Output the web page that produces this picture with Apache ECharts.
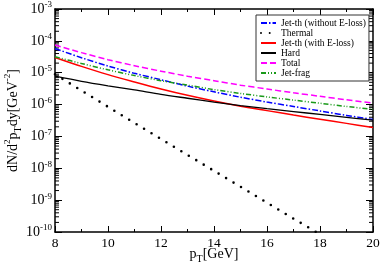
<!DOCTYPE html>
<html>
<head>
<meta charset="utf-8">
<script src="https://cdn.jsdelivr.net/npm/echarts@6/dist/echarts.min.js"></script>
<style>html,body{margin:0;padding:0;background:#fff}#c{width:382px;height:265px}</style>
</head>
<body>
<div id="c"></div>
<script>
// ---- data ----
const pT = [8, 9, 10, 11, 12, 13, 14, 15, 16, 17, 18, 19, 20];
const jetThNoLoss = [5.75e-5, 2.95e-5, 1.62e-5, 9.55e-6, 6.03e-6, 3.80e-6, 2.51e-6, 1.70e-6, 1.20e-6, 8.71e-7, 6.31e-7, 4.57e-7, 3.39e-7];
const thermal = [8.91e-6, 2.75e-6, 8.51e-7, 2.63e-7, 8.32e-8, 2.63e-8, 8.32e-9, 2.63e-9, 8.32e-10, 2.63e-10, 8.51e-11];
const jetThLoss = [3.02e-5, 1.58e-5, 8.71e-6, 5.13e-6, 3.09e-6, 1.95e-6, 1.29e-6, 8.91e-7, 6.46e-7, 4.68e-7, 3.47e-7, 2.57e-7, 1.91e-7];
const hard = [7.76e-6, 5.37e-6, 3.89e-6, 2.88e-6, 2.09e-6, 1.58e-6, 1.20e-6, 9.33e-7, 7.41e-7, 6.03e-7, 4.90e-7, 3.98e-7, 3.24e-7];
const total = [7.41e-5, 4.27e-5, 2.57e-5, 1.66e-5, 1.12e-5, 7.76e-6, 5.62e-6, 4.07e-6, 3.09e-6, 2.34e-6, 1.82e-6, 1.41e-6, 1.12e-6];
const jetFrag = [3.16e-5, 1.95e-5, 1.23e-5, 8.13e-6, 5.62e-6, 4.07e-6, 2.95e-6, 2.24e-6, 1.74e-6, 1.38e-6, 1.10e-6, 8.71e-7, 7.08e-7];
const seriesNames = ['Jet-th (without E-loss)', 'Thermal', 'Jet-th (with E-loss)', 'Hard', 'Total', 'Jet-frag'];
const xMin = 8, xMax = 20, xStep = 2;
const yMin = 1e-10, yMax = 1e-3;
// minor log ticks (2..9 per decade)
const yMinorTicks = [];
for (let e = -10; e < -3; e++) for (let m = 2; m <= 9; m++) yMinorTicks.push(m * Math.pow(10, e));

const FONT = "'Liberation Serif','Times New Roman',serif";
function pairs(vals) { return vals.map((v, i) => [pT[i], v]); }

const chart = echarts.init(document.getElementById('c'), null, {renderer: 'canvas'});
const axisLineStyle = {color: '#000', width: 1.5};
const option = {
  animation: false,
  backgroundColor: '#fff',
  grid: {left: 55, right: 9, top: 9, bottom: 33, containLabel: false, outerBoundsMode: 'none'},
  legend: {
    data: seriesNames,
    orient: 'vertical',
    left: 256, top: 15,
    itemWidth: 15, itemHeight: 10, itemGap: 0,
    padding: [3, 3, 3, 4],
    backgroundColor: '#fff',
    borderColor: '#333', borderWidth: 1,
    itemStyle: {opacity: 0},
    textStyle: {fontFamily: FONT, fontSize: 9.5, color: '#000'},
    selectedMode: false
  },
  xAxis: [{
    type: 'value', min: xMin, max: xMax, interval: xStep,
    name: '{a|p}{sub|T}{a|[GeV]}', nameLocation: 'middle', nameGap: 12, nameMoveOverlap: false,
    nameTextStyle: {fontFamily: FONT, color: '#000', rich: {
      a: {fontFamily: FONT, fontSize: 14, color: '#000', lineHeight: 20},
      sub: {fontFamily: FONT, fontSize: 10, color: '#000', verticalAlign: 'bottom'}
    }},
    axisLine: {lineStyle: axisLineStyle},
    axisTick: {inside: true, length: 6, lineStyle: {color: '#000', width: 1}},
    minorTick: {show: true, splitNumber: 2, length: 3, lineStyle: {color: '#000', width: 1}},
    splitLine: {show: false},
    axisLabel: {fontFamily: FONT, fontSize: 13.5, color: '#000', margin: 4}
  }, {
    type: 'value', min: xMin, max: xMax, interval: xStep, position: 'top',
    axisLine: {lineStyle: axisLineStyle},
    axisTick: {inside: true, length: 6, lineStyle: {color: '#000', width: 1}},
    minorTick: {show: true, splitNumber: 2, length: 3, lineStyle: {color: '#000', width: 1}},
    splitLine: {show: false},
    axisLabel: {show: false}
  }],
  yAxis: [{
    type: 'log', logBase: 10, min: yMin, max: yMax,
    name: '{a|dN/d}{sup|2}{a|p}{sub|T}{a|dy[GeV}{sup|-2}{a|]}',
    nameLocation: 'middle', nameGap: 32, nameMoveOverlap: false,
    nameTextStyle: {fontFamily: FONT, color: '#000', rich: {
      a: {fontFamily: FONT, fontSize: 14, color: '#000', lineHeight: 20},
      sup: {fontFamily: FONT, fontSize: 9, color: '#000', verticalAlign: 'top'},
      sub: {fontFamily: FONT, fontSize: 10, color: '#000', verticalAlign: 'bottom'}
    }},
    axisLine: {lineStyle: axisLineStyle},
    axisTick: {inside: true, length: 7, lineStyle: {color: '#000', width: 1}},
    splitLine: {show: false},
    axisLabel: {
      margin: 3,
      formatter: function (v) { return '{b|10}{s|' + Math.round(Math.log10(v)) + '}'; },
      rich: {
        b: {fontFamily: FONT, fontSize: 14, color: '#000', lineHeight: 17},
        s: {fontFamily: FONT, fontSize: 9, color: '#000', verticalAlign: 'top'}
      }
    }
  }, {
    type: 'log', logBase: 10, min: yMin, max: yMax, position: 'right',
    axisLine: {lineStyle: axisLineStyle},
    axisTick: {inside: true, length: 7, lineStyle: {color: '#000', width: 1}},
    splitLine: {show: false},
    axisLabel: {show: false}
  }],
  series: [
    {name: seriesNames[0], type: 'line', data: pairs(jetThNoLoss), showSymbol: false, symbol: 'none', smooth: 0.3,
      lineStyle: {color: '#0000ff', width: 1.5, type: [6, 2, 1.5, 2]}, itemStyle: {color: '#0000ff'}},
    {name: seriesNames[1], type: 'line', data: pairs(thermal), showSymbol: false, symbol: 'none',
      lineStyle: {color: '#000', width: 2.6, type: [0, 8.7], cap: 'round'}, itemStyle: {color: '#000'}},
    {name: seriesNames[2], type: 'line', data: pairs(jetThLoss), showSymbol: false, symbol: 'none', smooth: 0.3,
      lineStyle: {color: '#ff0000', width: 1.5, type: 'solid'}, itemStyle: {color: '#ff0000'}},
    {name: seriesNames[3], type: 'line', data: pairs(hard), showSymbol: false, symbol: 'none', smooth: 0.3,
      lineStyle: {color: '#000', width: 1.3, type: 'solid'}, itemStyle: {color: '#000'}},
    {name: seriesNames[4], type: 'line', data: pairs(total), showSymbol: false, symbol: 'none', smooth: 0.3,
      lineStyle: {color: '#ff00ff', width: 1.5, type: [6, 3]}, itemStyle: {color: '#ff00ff'}},
    {name: seriesNames[5], type: 'line', data: pairs(jetFrag), showSymbol: false, symbol: 'none', smooth: 0.3,
      lineStyle: {color: '#1a9a1a', width: 1.5, type: [5, 2, 1, 2, 1, 2]}, itemStyle: {color: '#1a9a1a'}},
    {
      name: 'minorTicks', type: 'custom', silent: true, clip: false,
      data: yMinorTicks.map(v => [xMin, v]),
      renderItem: function (params, api) {
        const v = api.value(1);
        const pl = api.coord([xMin, v]);
        const pr = api.coord([xMax, v]);
        return {type: 'group', children: [
          {type: 'line', shape: {x1: pl[0], y1: pl[1], x2: pl[0] + 4, y2: pl[1]}, style: {stroke: '#000', lineWidth: 1}},
          {type: 'line', shape: {x1: pr[0], y1: pr[1], x2: pr[0] - 4, y2: pr[1]}, style: {stroke: '#000', lineWidth: 1}}
        ]};
      }
    }
  ]
};
chart.setOption(option);
</script>
</body>
</html>
